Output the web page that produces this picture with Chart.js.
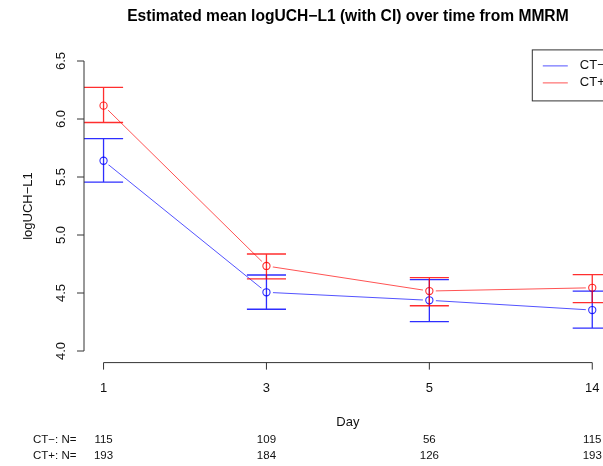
<!DOCTYPE html>
<html>
<head>
<meta charset="utf-8">
<script src="https://cdn.jsdelivr.net/npm/chart.js@4"></script>
<style>
  html, body { margin: 0; padding: 0; overflow: hidden; background: #fff; }
  canvas { display: block; }
</style>
</head>
<body>
<canvas id="chart" width="640" height="466"></canvas>
<script>
// Visit days and group names
const days = ['1', '3', '5', '14'];
const groups = ['CT\u2212', 'CT+'];

// Estimated means with confidence limits, CT- group
const ctNegMean = [5.64, 4.506, 4.437, 4.353];
const ctNegLower = [5.455, 4.36, 4.253, 4.198];
const ctNegUpper = [5.83, 4.655, 4.615, 4.517];

// Estimated means with confidence limits, CT+ group
const ctPosMean = [6.115, 4.733, 4.517, 4.545];
const ctPosLower = [5.97, 4.621, 4.39, 4.417];
const ctPosUpper = [6.273, 4.836, 4.632, 4.658];

// Number of subjects per visit
const ctNegN = [115, 109, 56, 115];
const ctPosN = [193, 184, 126, 193];

const yTicks = [4.0, 4.5, 5.0, 5.5, 6.0, 6.5];

const BLUE = 'rgba(0,0,255,0.82)';
const RED = 'rgba(255,0,0,0.82)';
const FONT = '"Liberation Sans", Arial, Helvetica, sans-serif';

const toPoints = arr => arr.map((v, i) => ({ x: i + 1, y: v }));

const series = [
  { name: groups[0], mean: ctNegMean, lower: ctNegLower, upper: ctNegUpper, n: ctNegN, color: BLUE, line: 'rgba(0,0,255,0.68)' },
  { name: groups[1], mean: ctPosMean, lower: ctPosLower, upper: ctPosUpper, n: ctPosN, color: RED, line: 'rgba(255,0,0,0.68)' }
];

const datasets = [];
series.forEach(s => {
  // connecting line
  datasets.push({ data: toPoints(s.mean), borderColor: s.line, borderWidth: 1, pointRadius: 0, order: 3 });
  // white patch so the line stops short of each point (type "b")
  datasets.push({ data: toPoints(s.mean), showLine: false, pointRadius: 6.5, pointBorderWidth: 0,
    pointBackgroundColor: '#ffffff', pointBorderColor: '#ffffff', order: 2 });
  // open circles
  datasets.push({ data: toPoints(s.mean), showLine: false, pointRadius: 3.6, pointBorderWidth: 1.1,
    pointBackgroundColor: 'rgba(0,0,0,0)', pointBorderColor: s.color, order: 1 });
});

const basePlot = {
  id: 'basePlot',
  afterDatasetsDraw(chart) {
    const { ctx, scales: { x, y } } = chart;
    const capHalf = x.getPixelForValue(1.12) - x.getPixelForValue(1);
    ctx.save();
    ctx.lineWidth = 1.3;
    series.forEach(s => {
      ctx.strokeStyle = s.color;
      s.mean.forEach((m, i) => {
        const px = x.getPixelForValue(i + 1);
        const lo = y.getPixelForValue(s.lower[i]);
        const hi = y.getPixelForValue(s.upper[i]);
        ctx.beginPath();
        ctx.moveTo(px, lo); ctx.lineTo(px, hi);
        ctx.moveTo(px - capHalf, lo); ctx.lineTo(px + capHalf, lo);
        ctx.moveTo(px - capHalf, hi); ctx.lineTo(px + capHalf, hi);
        ctx.stroke();
      });
    });
    ctx.restore();
  },
  afterDraw(chart) {
    const { ctx, chartArea: area, scales: { x, y } } = chart;
    ctx.save();
    ctx.strokeStyle = '#333';
    ctx.fillStyle = '#111';
    ctx.lineWidth = 1;

    // y axis with rotated labels
    const yTop = y.getPixelForValue(yTicks[yTicks.length - 1]);
    const yBot = y.getPixelForValue(yTicks[0]);
    ctx.beginPath();
    ctx.moveTo(area.left, yTop); ctx.lineTo(area.left, yBot);
    yTicks.forEach(t => {
      const py = y.getPixelForValue(t);
      ctx.moveTo(area.left, py); ctx.lineTo(area.left - 7, py);
    });
    ctx.stroke();
    ctx.font = '13px ' + FONT;
    ctx.textAlign = 'center';
    ctx.textBaseline = 'middle';
    yTicks.forEach(t => {
      ctx.save();
      ctx.translate(area.left - 23, y.getPixelForValue(t));
      ctx.rotate(-Math.PI / 2);
      ctx.fillText(t.toFixed(1), 0, 0);
      ctx.restore();
    });

    // x axis line and ticks
    const x0 = x.getPixelForValue(1);
    const x1 = x.getPixelForValue(days.length);
    ctx.beginPath();
    ctx.moveTo(x0, area.bottom); ctx.lineTo(x1, area.bottom);
    days.forEach((d, i) => {
      const px = x.getPixelForValue(i + 1);
      ctx.moveTo(px, area.bottom); ctx.lineTo(px, area.bottom + 7);
    });
    ctx.stroke();

    // title
    ctx.font = 'bold 15.6px ' + FONT;
    ctx.fillStyle = '#000';
    ctx.fillText('Estimated mean logUCH\u2212L1 (with CI) over time from MMRM', (area.left + area.right) / 2, 16.5);

    // subjects per visit
    ctx.font = '11.5px ' + FONT;
    ctx.fillStyle = '#111';
    series.forEach((s, k) => {
      const py = 439.5 + k * 16.8;
      ctx.textAlign = 'left';
      ctx.fillText(s.name + ': N=', 33, py);
      ctx.textAlign = 'center';
      s.n.forEach((v, i) => ctx.fillText(String(v), x.getPixelForValue(i + 1), py));
    });

    // legend
    const bx = area.right - 80, by = area.top, bw = 80, bh = 51;
    ctx.strokeStyle = '#333';
    ctx.strokeRect(bx + 0.5, by + 0.5, bw, bh);
    ctx.font = '13px ' + FONT;
    ctx.textAlign = 'left';
    series.forEach((s, k) => {
      const py = by + 16.5 + k * 17;
      ctx.strokeStyle = s.line;
      ctx.beginPath();
      ctx.moveTo(bx + 11, py); ctx.lineTo(bx + 36, py);
      ctx.stroke();
      ctx.fillStyle = '#111';
      ctx.fillText(s.name, bx + 48, py);
    });
    ctx.restore();
  }
};

new Chart(document.getElementById('chart'), {
  type: 'line',
  data: { datasets: datasets },
  options: {
    responsive: false,
    animation: false,
    devicePixelRatio: 1,
    layout: { padding: { top: 49.4, right: 28.2, bottom: 0, left: 0 } },
    plugins: { legend: { display: false }, tooltip: { enabled: false }, title: { display: false } },
    scales: {
      x: {
        type: 'linear',
        min: 0.88,
        max: 4.12,
        grid: { display: false, drawTicks: false },
        border: { display: false },
        afterBuildTicks: s => { s.ticks = days.map((d, i) => ({ value: i + 1 })); },
        afterFit: s => { s.height = 103.4; },
        ticks: {
          padding: 18,
          color: '#111',
          font: { family: FONT, size: 13 },
          callback: v => days[v - 1]
        },
        title: { display: true, text: 'Day', color: '#111', font: { family: FONT, size: 13 }, padding: { top: 0, bottom: 35.5 } }
      },
      y: {
        type: 'linear',
        min: 3.9,
        max: 6.6,
        grid: { display: false, drawTicks: false },
        border: { display: false },
        ticks: { display: false },
        afterBuildTicks: s => { s.ticks = yTicks.map(v => ({ value: v })); },
        afterFit: s => { s.width = 84; },
        title: { display: true, text: 'logUCH\u2212L1', color: '#111', font: { family: FONT, size: 13 }, padding: { top: 20.5, bottom: 0 } }
      }
    }
  },
  plugins: [basePlot]
});
</script>
</body>
</html>
